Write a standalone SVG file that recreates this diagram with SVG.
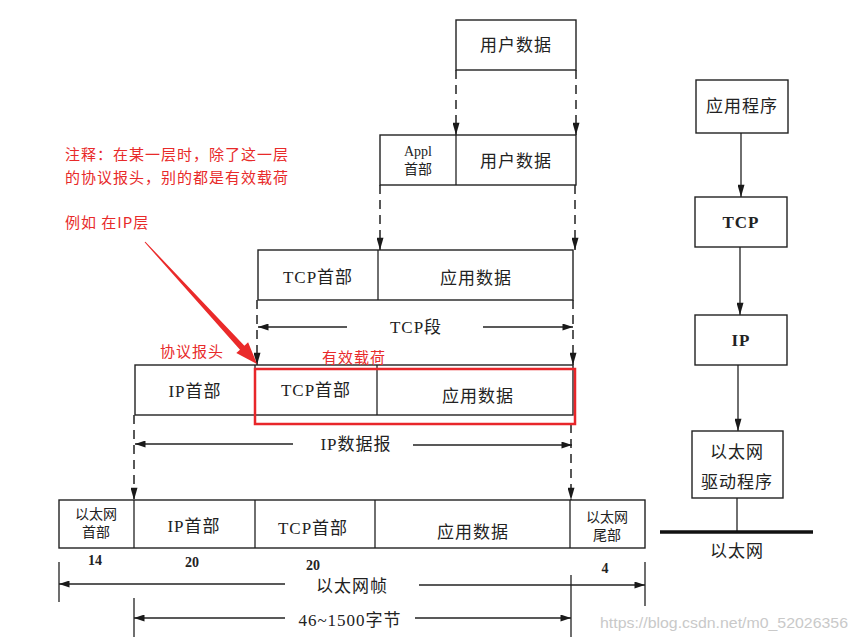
<svg xmlns="http://www.w3.org/2000/svg" width="858" height="637" viewBox="0 0 858 637">
<defs>
<marker id="ah" viewBox="0 0 14 8" refX="14" refY="4" markerWidth="14" markerHeight="7" markerUnits="userSpaceOnUse" orient="auto"><path d="M0,0 L14,4 L0,8 z" fill="#1a1a1a"/></marker>
<marker id="dh" viewBox="0 0 12 8" refX="12" refY="4" markerWidth="11" markerHeight="7" markerUnits="userSpaceOnUse" orient="auto"><path d="M0,0 L12,4 L0,8 z" fill="#1a1a1a"/></marker>
<style>
.box{fill:#fff;stroke:#222;stroke-width:1.4}
.ln{stroke:#222;stroke-width:1.3;fill:none}
.dash{stroke:#222;stroke-width:1.5;stroke-dasharray:9 6;fill:none}
.t{font-family:"Liberation Serif","Noto Sans CJK SC",serif;font-size:17px;fill:#222;text-anchor:middle;letter-spacing:1px}
.s{font-size:14px;letter-spacing:0}
.b{font-weight:bold}
.red{font-family:"Noto Sans CJK SC","Liberation Sans",sans-serif;font-size:15px;fill:#e82a2a;letter-spacing:1px}
.redbox{fill:none;stroke:#e8262a;stroke-width:2.5}
.wm{font-family:"Liberation Sans",Arial,sans-serif;font-size:15px;fill:#c9c9c9}
</style>
</defs>
<rect width="858" height="637" fill="#fff"/>

<g id="connectors">
  <path class="dash" d="M456,70 V135" marker-end="url(#ah)"/>
  <path class="dash" d="M576,70 V135" marker-end="url(#ah)"/>
  <path class="dash" d="M380,185 V250" marker-end="url(#ah)"/>
  <path class="dash" d="M575,185 V250" marker-end="url(#ah)"/>
  <path class="dash" d="M257,300 V365" marker-end="url(#ah)"/>
  <path class="dash" d="M573,300 V365" marker-end="url(#ah)"/>
  <path class="dash" d="M134,415 V500" marker-end="url(#ah)"/>
  <path class="dash" d="M571,424 V500" marker-end="url(#ah)"/>
  <!-- dimension lines -->
  <path class="ln" d="M347,327 H258" marker-end="url(#dh)"/>
  <path class="ln" d="M483,327 H573" marker-end="url(#dh)"/>
  <path class="ln" d="M293,444 H135" marker-end="url(#dh)"/>
  <path class="ln" d="M413,445 H572" marker-end="url(#dh)"/>
  <path class="ln" d="M285,584 H59" marker-end="url(#dh)"/>
  <path class="ln" d="M419,585 H645" marker-end="url(#dh)"/>
  <path class="ln" d="M285,618 H134" marker-end="url(#dh)"/>
  <path class="ln" d="M415,618 H571" marker-end="url(#dh)"/>
  <path class="ln" d="M59,562 V602 M645,562 V606 M134,598 V637 M571,575 V637"/>
  <!-- right column -->
  <path class="ln" d="M741,133 V197" marker-end="url(#ah)"/>
  <path class="ln" d="M740,247 V315" marker-end="url(#ah)"/>
  <path class="ln" d="M738,365 V431" marker-end="url(#ah)"/>
  <path class="ln" d="M737,498 V532"/>
  <!-- red annotation arrow -->
  <polygon fill="#ea2a2a" points="144.6,242.3 240.0,349.7 236.3,353.1 257,364 248.1,342.3 244.4,345.7 145.4,241.7"/>
</g>

<g id="user-data">
  <rect class="box" x="456" y="20" width="120" height="50"/>
  <text class="t" x="516" y="51">用户数据</text>
</g>

<g id="appl-segment">
  <rect class="box" x="380" y="135" width="196" height="50"/>
  <line class="ln" x1="456" y1="135" x2="456" y2="185"/>
  <text class="t s" x="418" y="156">Appl</text>
  <text class="t s" x="418" y="174">首部</text>
  <text class="t" x="516" y="167">用户数据</text>
</g>

<g id="tcp-segment">
  <rect class="box" x="258" y="250" width="315" height="50"/>
  <line class="ln" x1="378" y1="250" x2="378" y2="300"/>
  <text class="t" x="318" y="283">TCP首部</text>
  <text class="t" x="476" y="284">应用数据</text>
  <text class="t" x="416" y="333">TCP段</text>
</g>

<g id="ip-datagram">
  <rect class="box" x="135" y="365" width="438" height="50"/>
  <line class="ln" x1="255" y1="365" x2="255" y2="415"/>
  <line class="ln" x1="377" y1="365" x2="377" y2="415"/>
  <text class="t" x="195" y="397">IP首部</text>
  <text class="t" x="316" y="396">TCP首部</text>
  <text class="t" x="478" y="402">应用数据</text>
  <rect class="redbox" x="255" y="369" width="320" height="55"/>
  <text class="t" x="356" y="450">IP数据报</text>
</g>

<g id="ethernet-frame">
  <rect class="box" x="59" y="500" width="586" height="48"/>
  <line class="ln" x1="134" y1="500" x2="134" y2="548"/>
  <line class="ln" x1="255" y1="500" x2="255" y2="548"/>
  <line class="ln" x1="375" y1="500" x2="375" y2="548"/>
  <line class="ln" x1="570" y1="500" x2="570" y2="548"/>
  <text class="t s" x="96" y="519">以太网</text>
  <text class="t s" x="96" y="537">首部</text>
  <text class="t" x="194" y="532">IP首部</text>
  <text class="t" x="313" y="534">TCP首部</text>
  <text class="t" x="473" y="538">应用数据</text>
  <text class="t s" x="607" y="522">以太网</text>
  <text class="t s" x="607" y="540">尾部</text>
  <text class="t s b" x="95" y="565">14</text>
  <text class="t s b" x="192" y="567">20</text>
  <text class="t s b" x="313" y="570">20</text>
  <text class="t s b" x="605" y="573">4</text>
  <text class="t" x="352" y="592">以太网帧</text>
  <text class="t" x="350" y="626">46~1500字节</text>
</g>

<g id="app-program">
  <rect class="box" x="696" y="80" width="92" height="53"/>
  <text class="t" x="742" y="112">应用程序</text>
</g>
<g id="tcp-layer">
  <rect class="box" x="695" y="197" width="92" height="50"/>
  <text class="t b" x="741" y="228">TCP</text>
</g>
<g id="ip-layer">
  <rect class="box" x="695" y="315" width="92" height="50"/>
  <text class="t b" x="741" y="346">IP</text>
</g>
<g id="ethernet-driver">
  <rect class="box" x="692" y="431" width="91" height="67"/>
  <text class="t" x="737" y="458">以太网</text>
  <text class="t" x="737" y="488">驱动程序</text>
</g>
<g id="ethernet-wire">
  <line x1="660" y1="532" x2="813" y2="532" stroke="#111" stroke-width="3.5"/>
  <text class="t" x="737" y="557">以太网</text>
</g>

<g id="annotation">
  <text class="red" x="65" y="160">注释：在某一层时，除了这一层</text>
  <text class="red" x="65" y="183">的协议报头，别的都是有效载荷</text>
  <text class="red" x="65" y="228">例如 在IP层</text>
  <text class="red" x="160" y="357">协议报头</text>
  <text class="red" x="322" y="363">有效载荷</text>
</g>

<text class="wm" x="600" y="628" textLength="248" lengthAdjust="spacingAndGlyphs">https://blog.csdn.net/m0_52026356</text>
</svg>
